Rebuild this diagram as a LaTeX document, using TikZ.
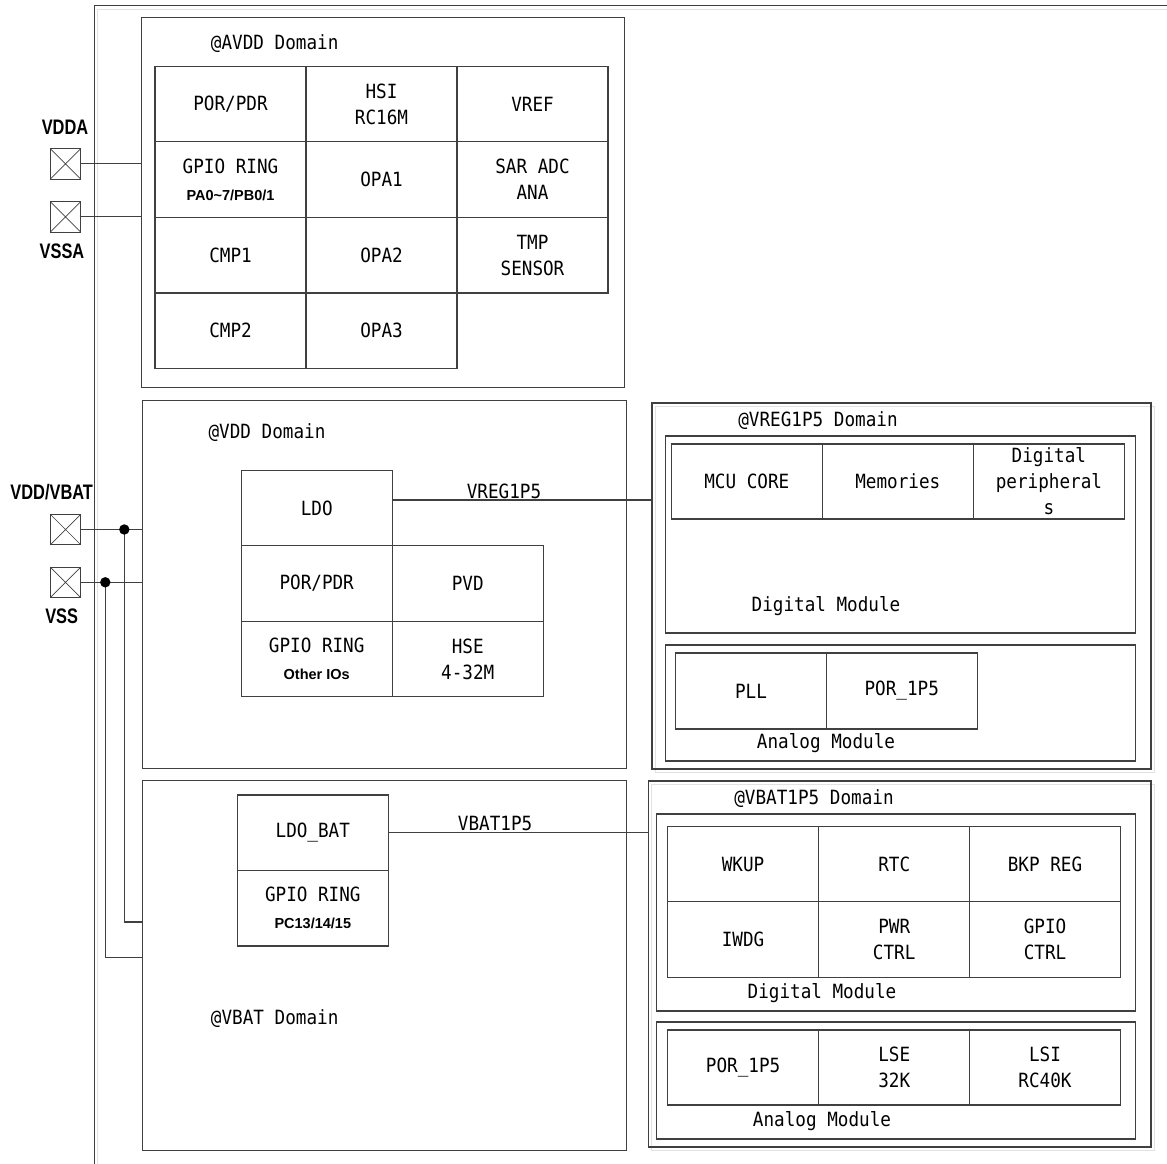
\documentclass[tikz,border=0pt]{standalone}
\usepackage{fontspec}
\setmainfont{DejaVu Sans Mono}[FakeStretch=0.9]
\newfontfamily\padfont{Liberation Sans}[FakeStretch=0.78]
\newfontfamily\iofont{Liberation Sans}
\usetikzlibrary{positioning}
\definecolor{wire}{HTML}{404040}
\definecolor{ghost}{HTML}{E2E2E2}

\begin{document}
\begin{tikzpicture}[
  x=1pt, y=-1pt,
  font=\fontsize{19.6}{26}\selectfont,
  cell/.style={draw=wire, line width=1.1pt, minimum width=151pt, minimum height=75.5pt,
               inner sep=0pt, align=center},
  dom/.style={draw=wire, line width=1.1pt, inner sep=0pt},
  padbox/.style={draw=wire, line width=0.9pt, minimum size=30.5pt, inner sep=0pt,
               path picture={\draw[wire, line width=0.7pt]
                 (path picture bounding box.north west) -- (path picture bounding box.south east)
                 (path picture bounding box.north east) -- (path picture bounding box.south west);}},
  padlbl/.style={font=\padfont\bfseries\fontsize{21}{24}\selectfont, inner sep=0pt},
  ttl/.style={inner sep=0pt},
  ln/.style={draw=wire, line width=1.1pt},
  ghostln/.style={draw=ghost, line width=0.9pt},
  lb/.style={inner sep=1pt},
  jdot/.style={fill=black},
]
\useasboundingbox (0,0) rectangle (1167,1164);

% chip outline
\draw[ghostln] (97,1164) -- (97,9) -- (1167,9);
\draw[ln] (94.3,1164) -- (94.3,5.7) -- (1167,5.7);

% @AVDD domain
\node[dom, minimum width=483pt, minimum height=369.6pt] (avdd) at (382.8,202.5) {};
\node[ttl] (avdd-t) at (274.7,43.3) {@AVDD Domain};
\node[cell] (porA)  at (230.5,104)   {POR/PDR};
\node[cell] (hsi)   at (381.5,104)   {HSI\\RC16M};
\node[cell] (vref)  at (532.5,104)   {VREF};
\node[cell] (gpioA) at (230.5,179.5) {GPIO RING\\[1pt]{\iofont\bfseries\fontsize{14.5}{17}\selectfont PA0\textasciitilde7/PB0/1}};
\node[cell] (opa1)  at (381.5,179.5) {OPA1};
\node[cell] (sar)   at (532.5,179.5) {SAR ADC\\ANA};
\node[cell] (cmp1)  at (230.5,255.2) {CMP1};
\node[cell] (opa2)  at (381.5,255.2) {OPA2};
\node[cell] (tmp)   at (532.5,255.2) {TMP\\SENSOR};
\node[cell] (cmp2)  at (230.5,330.7) {CMP2};
\node[cell] (opa3)  at (381.5,330.7) {OPA3};

% @VDD domain
\node[dom, minimum width=483.7pt, minimum height=368.3pt] (vdd) at (384.2,584.2) {};
\node[ttl] (vdd-t) at (267,432.3) {@VDD Domain};
\node[cell] (ldo)   at (316.7,508)   {LDO};
\node[cell] (porV)  at (316.7,583.5) {POR/PDR};
\node[cell] (gpioV) at (316.7,659)   {GPIO RING\\[1pt]{\iofont\bfseries\fontsize{14.5}{17}\selectfont Other IOs}};
\node[cell] (pvd)   at (467.7,583.5) {PVD};
\node[cell] (hse)   at (467.7,659)   {HSE\\4-32M};

% @VBAT domain
\node[dom, minimum width=483.7pt, minimum height=369.3pt] (vbat) at (384.2,965.4) {};
\node[ttl] (vbat-t) at (274.7,1018.3) {@VBAT Domain};
\node[cell] (ldobat) at (312.8,832.7) {LDO\_BAT};
\node[cell] (gpioB)  at (312.8,908.2) {GPIO RING\\[1pt]{\iofont\bfseries\fontsize{14.5}{17}\selectfont PC13/14/15}};

% @VREG1P5 domain
\draw[ghostln] (655,406) rectangle (1154,772);
\node[dom, minimum width=499pt, minimum height=366pt] (vreg) at (901.5,586) {};
\node[ttl] (vreg-t) at (818,421) {@VREG1P5 Domain};
\node[dom, minimum width=470.5pt, minimum height=197pt] (vdig) at (900.3,534.5) {};
\node[ttl] (vdig-t) at (826,606) {Digital Module};
\node[cell, minimum height=75pt] (core) at (746.8,481.5) {MCU CORE};
\node[cell, minimum height=75pt] (mem)  at (897.8,481.5) {Memories};
\node[cell, minimum height=75pt] (dper) at (1048.9,481.5) {Digital\\peripheral\\s};
\node[dom, minimum width=470.5pt, minimum height=116pt] (vana) at (900.3,703) {};
\node[ttl] (vana-t) at (826,743) {Analog Module};
\node[cell, minimum height=76pt] (pll)  at (751,691)   {PLL};
\node[cell, minimum height=76pt] (porR) at (901.7,691) {POR\_1P5};

% @VBAT1P5 domain
\draw[ghostln] (651.6,784) rectangle (1154,1150);
\node[dom, minimum width=502.4pt, minimum height=366pt] (vb15) at (899.8,964) {};
\node[ttl] (vb15-t) at (814,799) {@VBAT1P5 Domain};
\node[dom, minimum width=479.5pt, minimum height=197pt] (bdig) at (895.8,912.5) {};
\node[ttl] (bdig-t) at (822,993) {Digital Module};
\node[cell] (wkup) at (743.1,864)   {WKUP};
\node[cell] (rtc)  at (894.2,864)   {RTC};
\node[cell] (bkp)  at (1045,864)    {BKP REG};
\node[cell] (iwdg) at (743.1,939.5) {IWDG};
\node[cell] (pwr)  at (894.2,939.5) {PWR\\CTRL};
\node[cell] (gctl) at (1045,939.5)  {GPIO\\CTRL};
\node[dom, minimum width=479.5pt, minimum height=117pt] (bana) at (895.8,1080.5) {};
\node[ttl] (bana-t) at (822,1121) {Analog Module};
\node[cell, minimum height=75pt] (porB) at (743.1,1067.5) {POR\_1P5};
\node[cell, minimum height=75pt] (lse)  at (894.2,1067.5) {LSE\\32K};
\node[cell, minimum height=75pt] (lsi)  at (1045,1067.5)  {LSI\\RC40K};

% supply pads
\node[padbox] (vdda) at (65.5,163.8) {};
\node[padlbl] (vdda-l) at (65,127.7) {VDDA};
\node[padbox] (vssa) at (65.5,216.8) {};
\node[padlbl] (vssa-l) at (62,251.7) {VSSA};
\node[padbox] (vddp) at (65.5,529.5) {};
\node[padlbl] (vddp-l) at (51.7,492.3) {VDD/VBAT};
\node[padbox] (vssp) at (65.5,582.3) {};
\node[padlbl] (vssp-l) at (61.7,616.7) {VSS};

\coordinate (j1) at (124.3,529.5);
\coordinate (j2) at (105.3,582.3);
\coordinate (b1) at (124.3,922);
\coordinate (b2) at (105.3,957.3);

\draw[ln] (vdda.east) -- (vdda.east -| avdd.west);
\draw[ln] (vssa.east) -- (vssa.east -| avdd.west);
\draw[ln] (vddp.east) -- (vddp.east -| vdd.west);
\draw[ln] (vssp.east) -- (vssp.east -| vdd.west);
\draw[ln] (j1) -- (b1) -- (b1 -| vbat.west);
\draw[ln] (j2) -- (b2) -- (b2 -| vbat.west);
\fill[jdot] (j1) circle (5.2pt);
\fill[jdot] (j2) circle (5.2pt);

% 1.5V supplies
\draw[ln] ([yshift=8pt]ldo.east) -- node[lb,above,pos=0.43] {VREG1P5} ([yshift=8pt]ldo.east -| vreg.west);
\draw[ln] (ldobat.east) -- node[lb,above,pos=0.41] {VBAT1P5} (ldobat.east -| vb15.west);
\end{tikzpicture}
\end{document}
